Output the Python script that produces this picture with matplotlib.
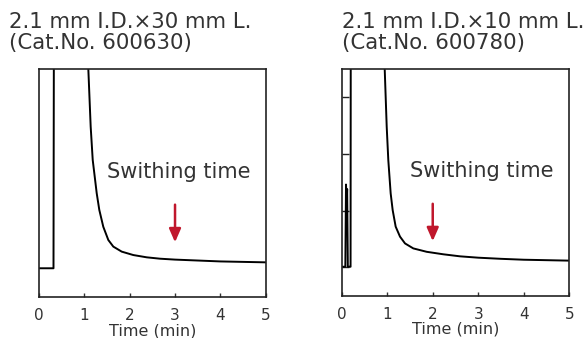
import numpy as np
import matplotlib.pyplot as plt

# column 600630 (2.1 x 30 mm)
t_a = [0, 0.32, 0.33, 1.07, 1.088, 1.140, 1.185, 1.273, 1.330, 1.418, 1.529, 1.639,
       1.824, 2.080, 2.376, 2.669, 3.0, 3.5, 4.0, 4.5, 5.0]
y_a = [12.6, 12.6, 130, 130, 100, 74.7, 60.1, 45.5, 38.2, 30.8, 25.0, 22.1,
       19.9, 18.4, 17.4, 16.8, 16.4, 16.0, 15.6, 15.4, 15.2]

# column 600780 (2.1 x 10 mm)
t_b = [0, 0.08, 0.095, 0.11, 0.12, 0.135, 0.18, 0.195, 0.2, 0.93, 0.945, 0.989,
       1.024, 1.076, 1.120, 1.186, 1.281, 1.391, 1.573, 1.867, 2.232, 2.599,
       3.0, 3.5, 4.0, 4.5, 5.0]
y_b = [12.7, 12.7, 49, 40, 47, 12.7, 12.7, 12.7, 130, 130, 100, 74.5,
       59.8, 45.1, 37.7, 30.4, 26.0, 23.0, 20.8, 19.3, 18.2, 17.3,
       16.7, 16.2, 15.8, 15.6, 15.4]

titles = ["2.1 mm I.D.×30 mm L.\n(Cat.No. 600630)",
          "2.1 mm I.D.×10 mm L.\n(Cat.No. 600780)"]
switch_t = [3.0, 2.0]
xticks = [0, 1, 2, 3, 4, 5]

txt = "#333333"
red = "#c0172c"

fig = plt.figure(figsize=(5.88, 3.38), dpi=100)
ax1 = fig.add_axes([0.0663, 0.1213, 0.3856, 0.6746])
ax2 = fig.add_axes([0.5811, 0.1257, 0.3871, 0.6701])

for ax, t, y, title, ts in zip([ax1, ax2], [t_a, t_b], [y_a, y_b], titles, switch_t):
    ax.plot(t, y, color="black", lw=1.4)
    ax.set_xlim(0, 5)
    ax.set_ylim(0, 100)
    ax.set_xticks(xticks)
    ax.tick_params(axis="x", direction="in", length=3, width=1, colors=txt,
                   labelsize=11, pad=8)
    ax.set_xlabel("Time (min)", fontsize=11.5, color=txt, labelpad=0)
    for s in ax.spines.values():
        s.set_color("#222222")
        s.set_linewidth(1.2)
    ax.text(3.08, 55, "Swithing time", ha="center", va="center", fontsize=15, color=txt)
    ax.annotate("", xy=(ts, 24), xytext=(ts, 40.5),
                arrowprops=dict(arrowstyle="-|>,head_width=0.35,head_length=0.8",
                                color=red, lw=1.8, shrinkA=0, shrinkB=0))

ax1.set_yticks([])
ax2.set_yticks([12.5, 37.5, 62.5, 87.5])
ax2.tick_params(axis="y", direction="in", length=5, width=1, labelleft=False,
                colors="#222222")

fig.text(0.0153, 0.965, titles[0], ha="left", va="top", fontsize=15.3, color=txt,
         linespacing=1.05)
fig.text(0.5811, 0.965, titles[1], ha="left", va="top", fontsize=15.3, color=txt,
         linespacing=1.05)

fig.savefig("out.png", dpi=100)
